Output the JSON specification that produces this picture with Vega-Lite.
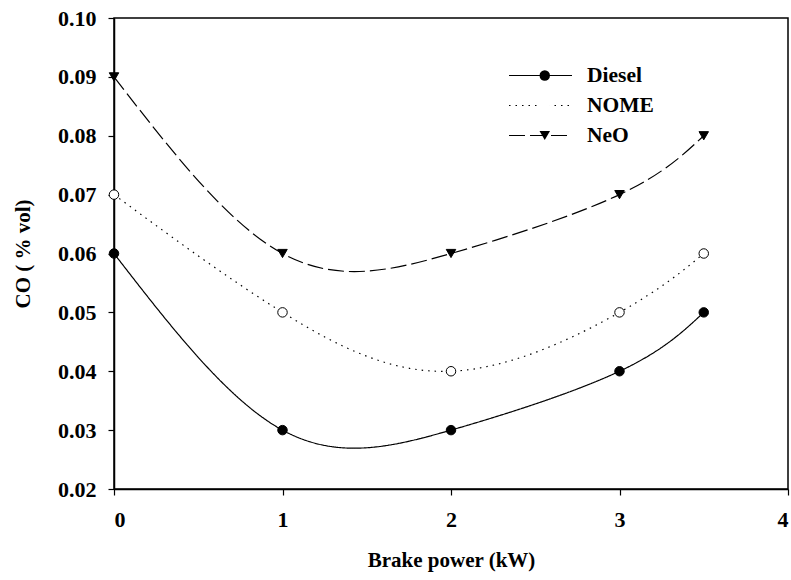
{
  "$schema": "https://vega.github.io/schema/vega-lite/v6.json",
  "width": 674,
  "height": 471,
  "autosize": {"type": "none"},
  "padding": {"left": 114, "top": 18, "right": 3, "bottom": 91},
  "background": "white",
  "config": {
    "font": "Liberation Serif",
    "view": {"stroke": "black", "strokeWidth": 1.5},
    "axis": {
      "domainColor": "black",
      "domainWidth": 1.5,
      "tickColor": "black",
      "tickWidth": 1.2,
      "tickSize": 6,
      "grid": false,
      "labelFont": "Liberation Serif",
      "labelFontWeight": "bold",
      "labelFontSize": 22,
      "labelColor": "black",
      "titleFont": "Liberation Serif",
      "titleFontWeight": "bold",
      "titleFontSize": 21,
      "titleColor": "black"
    },
    "legend": {
      "padding": 0,
      "title": null,
      "labelFont": "Liberation Serif",
      "labelFontWeight": "bold",
      "labelFontSize": 21.5,
      "labelColor": "black"
    }
  },
  "data": {
    "values": [
      {"series": "Diesel", "power": 0, "co": 0.06},
      {"series": "Diesel", "power": 1, "co": 0.03},
      {"series": "Diesel", "power": 2, "co": 0.03},
      {"series": "Diesel", "power": 3, "co": 0.04},
      {"series": "Diesel", "power": 3.5, "co": 0.05},
      {"series": "NOME", "power": 0, "co": 0.07},
      {"series": "NOME", "power": 1, "co": 0.05},
      {"series": "NOME", "power": 2, "co": 0.04},
      {"series": "NOME", "power": 3, "co": 0.05},
      {"series": "NOME", "power": 3.5, "co": 0.06},
      {"series": "NeO", "power": 0, "co": 0.09},
      {"series": "NeO", "power": 1, "co": 0.06},
      {"series": "NeO", "power": 2, "co": 0.06},
      {"series": "NeO", "power": 3, "co": 0.07},
      {"series": "NeO", "power": 3.5, "co": 0.08}
    ]
  },
  "encoding": {
    "x": {
      "field": "power",
      "type": "quantitative",
      "scale": {"domain": [0, 4], "nice": false, "zero": false},
      "axis": {
        "title": "Brake power (kW)",
        "values": [0, 1, 2, 3, 4],
        "format": "d",
        "labelPadding": 14,
        "titlePadding": 19
      }
    },
    "y": {
      "field": "co",
      "type": "quantitative",
      "scale": {"domain": [0.02, 0.1], "nice": false, "zero": false},
      "axis": {
        "title": "CO ( % vol)",
        "values": [0.02, 0.03, 0.04, 0.05, 0.06, 0.07, 0.08, 0.09, 0.1],
        "format": ".2f",
        "labelPadding": 12,
        "titlePadding": 24
      }
    }
  },
  "layer": [
    {
      "mark": {"type": "line", "interpolate": "natural", "stroke": "black", "strokeWidth": 1.2},
      "encoding": {
        "detail": {"field": "series"},
        "strokeDash": {
          "field": "series",
          "type": "nominal",
          "scale": {"range": [[1, 0], [1.5, 5], [16, 5]]},
          "legend": {
            "orient": "none",
            "legendX": 394,
            "legendY": 47,
            "symbolType": "stroke",
            "symbolSize": 3969,
            "symbolStrokeColor": "black",
            "symbolStrokeWidth": 1.2,
            "clipHeight": 21,
            "rowPadding": 8,
            "labelOffset": 14
          }
        }
      }
    },
    {
      "mark": {"type": "point", "filled": true, "stroke": "black", "strokeWidth": 1, "opacity": 1},
      "encoding": {
        "size": {
          "field": "series",
          "type": "nominal",
          "scale": {"range": [90, 90, 144]},
          "legend": null
        },
        "shape": {
          "field": "series",
          "type": "nominal",
          "scale": {"domain": ["Diesel", "NOME", "NeO"], "range": ["circle", "circle", "triangle-down"]},
          "legend": {
            "orient": "none",
            "legendX": 420,
            "legendY": 47,
            "symbolSize": 110,
            "symbolStrokeColor": "black",
            "symbolStrokeWidth": 1,
            "clipHeight": 21,
            "rowPadding": 8,
            "labelExpr": "''"
          }
        },
        "fill": {
          "field": "series",
          "type": "nominal",
          "scale": {"domain": ["Diesel", "NOME", "NeO"], "range": ["black", "white", "black"]},
          "legend": {
            "orient": "none",
            "legendX": 420,
            "legendY": 47,
            "symbolSize": 110,
            "symbolStrokeColor": "black",
            "symbolStrokeWidth": 1,
            "clipHeight": 21,
            "rowPadding": 8,
            "labelExpr": "''"
          }
        }
      }
    }
  ]
}
